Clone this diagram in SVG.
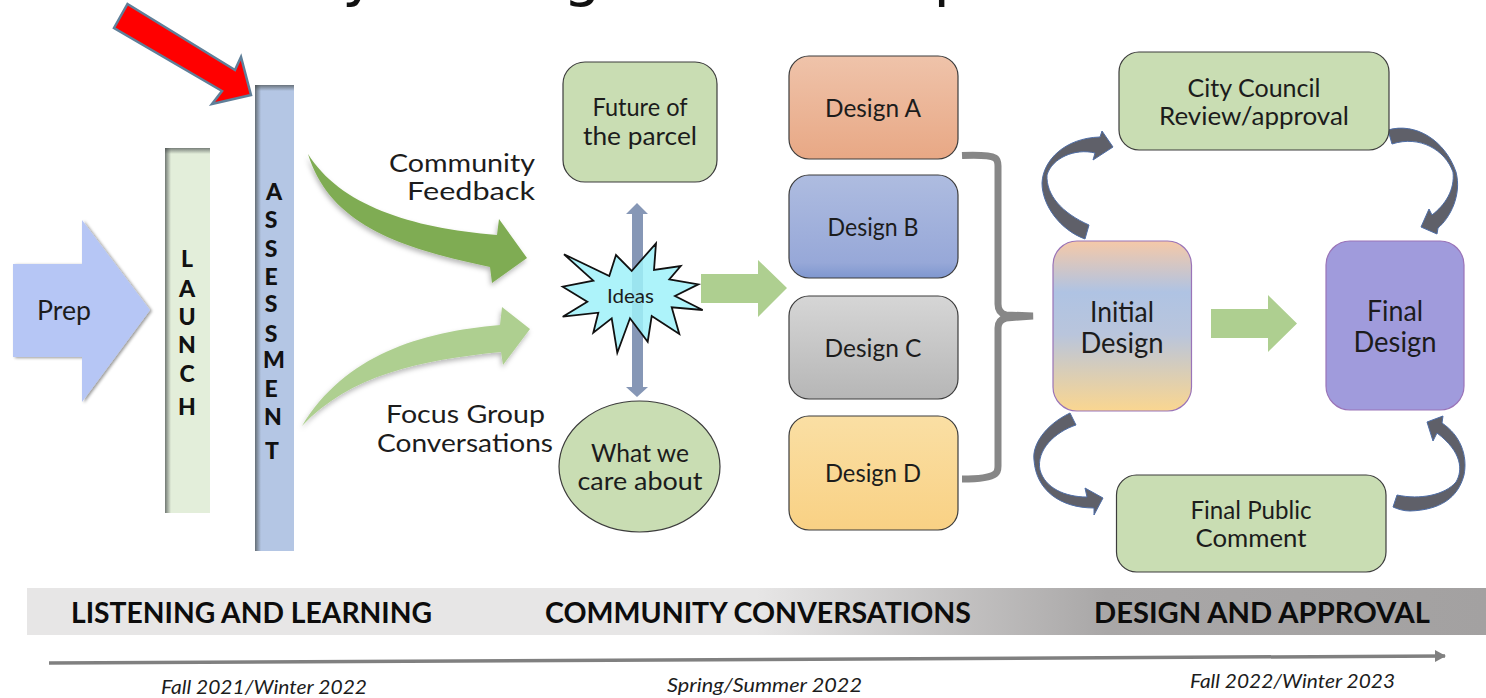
<svg xmlns="http://www.w3.org/2000/svg" width="1486" height="698" viewBox="0 0 1486 698">
<style>
text{font-family:"Lato","Liberation Sans",sans-serif;fill:#1c1c1c}
.l{font-size:25px;text-anchor:middle}
.s{font-size:25px;text-anchor:start}
.big{font-size:28px;text-anchor:middle}
.v{font-size:23px;font-weight:900;text-anchor:middle;fill:#111}
.h{font-size:29px;font-weight:700;fill:#0c0c0c}
.d{font-size:20px;font-style:italic}
.t{font-family:"DejaVu Sans",sans-serif;font-size:60px;fill:#111}
.box{stroke:#3c3c3c;stroke-width:1.2}
.pb{stroke:#9a74b8;stroke-width:1.2}
.grn{fill:#c9ddb3}
.curve{fill:#5f6069;stroke:#4e6da6;stroke-width:1}
</style>
<defs>
<filter id="sh" x="-20%" y="-20%" width="140%" height="140%"><feDropShadow dx="-1" dy="3" stdDeviation="2.5" flood-color="#000" flood-opacity=".28"/></filter>
<filter id="shr" x="-20%" y="-20%" width="140%" height="140%"><feDropShadow dx="2" dy="1" stdDeviation="1.5" flood-color="#000" flood-opacity=".4"/></filter>
<linearGradient id="gA" x1="0" y1="0" x2="0" y2="1"><stop offset="0" stop-color="#efc3aa"/><stop offset="1" stop-color="#e8a885"/></linearGradient>
<linearGradient id="gB" x1="0" y1="0" x2="0" y2="1"><stop offset="0" stop-color="#aebce0"/><stop offset=".85" stop-color="#97a8d8"/><stop offset="1" stop-color="#7f97cf"/></linearGradient>
<linearGradient id="gC" x1="0" y1="0" x2="0" y2="1"><stop offset="0" stop-color="#d6d6d6"/><stop offset="1" stop-color="#b6b6b6"/></linearGradient>
<linearGradient id="gD" x1="0" y1="0" x2="0" y2="1"><stop offset="0" stop-color="#fadfa4"/><stop offset="1" stop-color="#f9d184"/></linearGradient>
<linearGradient id="gI" x1="0" y1="0" x2="0" y2="1"><stop offset="0" stop-color="#f5c9a8"/><stop offset=".3" stop-color="#afc3e3"/><stop offset=".55" stop-color="#b9c5dc"/><stop offset="1" stop-color="#fad690"/></linearGradient>
<linearGradient id="gBan" gradientUnits="userSpaceOnUse" x1="27" y1="0" x2="1486" y2="0"><stop offset="0" stop-color="#e7e6e6"/><stop offset=".5" stop-color="#e7e6e6"/><stop offset=".74" stop-color="#a9a7a7"/><stop offset="1" stop-color="#a3a1a1"/></linearGradient>
<linearGradient id="edgeX" x1="0" y1="0" x2="1" y2="0"><stop offset="0" stop-color="#4a5050" stop-opacity=".75"/><stop offset="1" stop-color="#4a5050" stop-opacity="0"/></linearGradient>
<linearGradient id="edgeY" x1="0" y1="0" x2="0" y2="1"><stop offset="0" stop-color="#4a5050" stop-opacity=".7"/><stop offset="1" stop-color="#4a5050" stop-opacity="0"/></linearGradient>
<marker id="tip" markerUnits="userSpaceOnUse" markerWidth="12" markerHeight="14" refX="10" refY="6" orient="auto"><path d="M0 0L11 6L0 12Z" fill="#808080"/></marker>
</defs>
<rect width="1486" height="698" fill="#fff"/>
<g id="title"><text class="t" x="342" y="-6">y</text><text class="t" x="563" y="-6">g</text><text class="t" x="933.5" y="-6">p</text></g>
<g id="connectors">
<path d="M308 154C340 205 410 228 497 235L499 219L527 258L492 283L490 267C400 248 330 225 308 154Z" fill="#7fac52" filter="url(#sh)"/>
<path d="M302 426C345 355 420 332 500 325L502 307L530 329L503 365L501 352C420 360 350 375 302 426Z" fill="#aecf90" filter="url(#sh)"/>
<path d="M637 203L648 214H643V387H648L637 397L626 387H632V214H626Z" fill="#8697b6"/>
<path d="M701 274H758V260L787 288L758 317V303H701Z" fill="#aecf90"/>
<path d="M1211 309H1268V295L1297 323.5L1268 352V338H1211Z" fill="#aecf90"/>
<path d="M962 155.500C975 155 990 155 995 158Q998 160 998 166V304Q998 313 1006 315L1033 316L1006 318Q998 320 998 328V466Q998 472 995 474C990 478 975 479 962 479" fill="none" stroke="#878787" stroke-width="7"/>
<path class="curve" d="M1085 239C1060 230 1042 205 1042 183C1043 160 1065 138 1100 137L1102 131L1113 147L1093 160L1095 153C1075 148 1052 158 1047 175C1046 195 1062 213 1089 225Z"/>
<path class="curve" d="M1388 130C1415 122 1445 140 1456 172C1462 195 1450 218 1438 228L1437 234L1421 227L1429 209L1432 215C1445 205 1455 190 1453 172C1445 150 1420 135 1392 144Z"/>
<path class="curve" d="M1070 413C1045 425 1032 445 1034 460C1036 490 1060 508 1094 508L1094 515L1103 498L1085 488L1087 497C1065 497 1045 488 1040 470C1036 450 1055 432 1076 425Z"/>
<path class="curve" d="M1393 507L1397 495C1420 500 1445 495 1456 482C1463 470 1462 452 1437 433L1433 441L1427 422L1443 416L1442 423C1460 435 1468 455 1464 475C1458 498 1440 510 1410 511C1403 511 1398 509 1393 507Z"/>
<path d="M49 663L1445 656" fill="none" stroke="#808080" stroke-width="3.5" marker-end="url(#tip)"/>
</g>
<g id="red-arrow"><path d="M127.500 4L235 70L241 57L251 95L212 104L222 91L114 28Z" fill="#f00" stroke="#5f7f99" stroke-width="2.500"/></g>
<g id="prep"><path d="M13 264H82V220L150 310L82 402V357H13Z" fill="#b6c6f5" filter="url(#shr)"/><text x="37" y="320" font-size="27" textLength="54" lengthAdjust="spacingAndGlyphs">Prep</text></g>
<g id="launch"><rect x="165" y="148" width="45" height="365" fill="#e3eeda"/><rect x="165" y="148" width="6" height="365" fill="url(#edgeX)"/><rect x="165" y="148" width="45" height="6" fill="url(#edgeY)"/>
<text class="v"><tspan x="187" y="267">L</tspan><tspan x="187" y="297">A</tspan><tspan x="187" y="325">U</tspan><tspan x="187" y="353">N</tspan><tspan x="187" y="382">C</tspan><tspan x="187" y="415">H</tspan></text></g>
<g id="assessment"><rect x="255" y="85" width="39" height="466" fill="#b4c6e4"/><rect x="255" y="85" width="6" height="466" fill="url(#edgeX)"/><rect x="255" y="85" width="39" height="6" fill="url(#edgeY)"/>
<text class="v"><tspan x="274" y="200">A</tspan><tspan x="271" y="228">S</tspan><tspan x="271" y="257">S</tspan><tspan x="271" y="285">E</tspan><tspan x="271" y="312">S</tspan><tspan x="271" y="342">S</tspan><tspan x="274" y="368">M</tspan><tspan x="271" y="397">E</tspan><tspan x="273" y="425">N</tspan><tspan x="272" y="459">T</tspan></text></g>
<g id="community-feedback"><text class="s" x="389" y="172" textLength="146" lengthAdjust="spacingAndGlyphs">Community</text><text class="s" x="407" y="200" textLength="128" lengthAdjust="spacingAndGlyphs">Feedback</text></g>
<g id="focus-group"><text class="s" x="386" y="423" textLength="159" lengthAdjust="spacingAndGlyphs">Focus Group</text><text class="s" x="377" y="452" textLength="176" lengthAdjust="spacingAndGlyphs">Conversations</text></g>
<g id="future"><rect class="box grn" x="563" y="62" width="154" height="120" rx="22"/><text class="l" x="640" y="116" textLength="95" lengthAdjust="spacingAndGlyphs">Future of</text><text class="l" x="640" y="145" textLength="114" lengthAdjust="spacingAndGlyphs">the parcel</text></g>
<g id="ideas"><path d="M656 243.300L654 270L680.700 266L669.300 279.300L698.300 284.300L675 296L702.700 310L671.700 307.300L679.300 334L651.700 316L647.700 341.700L630 318.300L617.300 352.700L611.700 318.300L593.300 332.700L598.300 312.700L562.700 316.700L587.300 301.700L562.700 286.700L593.300 280.700L564 254.300L609.300 276L616 255L631.700 271Z" fill="#9ff1f9" fill-opacity=".85" stroke="#111" stroke-width="1.800"/><text x="607" y="303" font-size="20" textLength="47" lengthAdjust="spacingAndGlyphs">Ideas</text></g>
<g id="care"><ellipse class="box grn" cx="639.500" cy="466.500" rx="80.500" ry="65.500"/><text class="l" x="640" y="462" textLength="98" lengthAdjust="spacingAndGlyphs">What we</text><text class="l" x="640" y="490" textLength="125" lengthAdjust="spacingAndGlyphs">care about</text></g>
<g id="design-a"><rect class="box" x="789" y="56" width="169" height="103" rx="20" fill="url(#gA)"/><text class="l" x="873" y="117" textLength="96" lengthAdjust="spacingAndGlyphs">Design A</text></g>
<g id="design-b"><rect class="box" x="789" y="175" width="169" height="103" rx="20" fill="url(#gB)"/><text class="l" x="873" y="236" textLength="91" lengthAdjust="spacingAndGlyphs">Design B</text></g>
<g id="design-c"><rect class="box" x="789" y="296" width="169" height="103" rx="20" fill="url(#gC)"/><text class="l" x="873" y="357" textLength="97" lengthAdjust="spacingAndGlyphs">Design C</text></g>
<g id="design-d"><rect class="box" x="789" y="416" width="169" height="114" rx="20" fill="url(#gD)"/><text class="l" x="873" y="482" textLength="96" lengthAdjust="spacingAndGlyphs">Design D</text></g>
<g id="city-council"><rect class="box grn" x="1119" y="52" width="270" height="98" rx="20"/><text class="l" x="1254" y="97" textLength="133" lengthAdjust="spacingAndGlyphs">City Council</text><text class="l" x="1254" y="125" textLength="190" lengthAdjust="spacingAndGlyphs">Review/approval</text></g>
<g id="initial-design"><rect class="pb" x="1053" y="241" width="138.500" height="170" rx="24" fill="url(#gI)"/><text class="big" x="1122" y="322" textLength="64" lengthAdjust="spacingAndGlyphs">Initial</text><text class="big" x="1122" y="353" textLength="83" lengthAdjust="spacingAndGlyphs">Design</text></g>
<g id="final-design"><rect class="pb" x="1326" y="241" width="138" height="169" rx="24" fill="#a09bdc"/><text class="big" x="1395" y="321" textLength="56" lengthAdjust="spacingAndGlyphs">Final</text><text class="big" x="1395" y="352" textLength="83" lengthAdjust="spacingAndGlyphs">Design</text></g>
<g id="final-public"><rect class="box grn" x="1116.500" y="475" width="269.500" height="97" rx="20"/><text class="l" x="1251" y="519" textLength="121" lengthAdjust="spacingAndGlyphs">Final Public</text><text class="l" x="1251" y="547" textLength="111" lengthAdjust="spacingAndGlyphs">Comment</text></g>
<g id="banner"><rect x="27" y="588" width="1459" height="47" fill="url(#gBan)"/><text class="h" x="71" y="623" textLength="361" lengthAdjust="spacingAndGlyphs">LISTENING AND LEARNING</text><text class="h" x="545" y="623" textLength="426" lengthAdjust="spacingAndGlyphs">COMMUNITY CONVERSATIONS</text><text class="h" x="1094" y="623" textLength="336" lengthAdjust="spacingAndGlyphs">DESIGN AND APPROVAL</text></g>
<g id="dates"><text class="d" x="161" y="694" textLength="206" lengthAdjust="spacingAndGlyphs">Fall 2021/Winter 2022</text><text class="d" x="667" y="692" textLength="195" lengthAdjust="spacingAndGlyphs">Spring/Summer 2022</text><text class="d" x="1190" y="688" textLength="205" lengthAdjust="spacingAndGlyphs">Fall 2022/Winter 2023</text></g>
</svg>
